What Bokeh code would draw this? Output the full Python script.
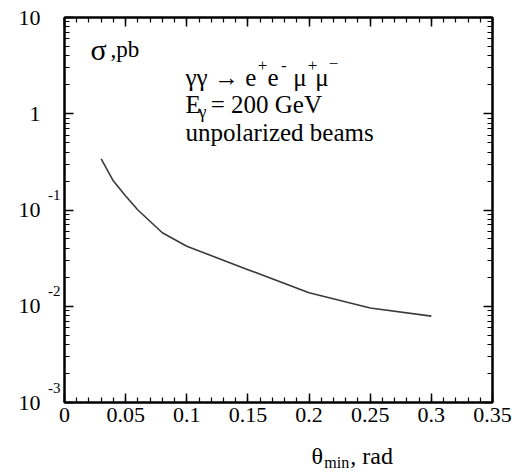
import numpy as np
from bokeh.plotting import figure
from bokeh.models import (Range1d, FixedTicker, LinearAxis, LogAxis, ColumnDataSource,
                          CustomJSTickFormatter, LogScale)
from bokeh.core.properties import value
from bokeh.embed import file_html
from bokeh.resources import INLINE

# ---- data ----
theta = [0.03, 0.04, 0.05, 0.06, 0.08, 0.10, 0.15, 0.20, 0.25, 0.30]
sigma = [0.34, 0.20, 0.14, 0.10, 0.058, 0.042, 0.024, 0.0138, 0.0096, 0.0079]

xtick_values = [0.0, 0.05, 0.10, 0.15, 0.20, 0.25, 0.30, 0.35]
xtick_labels = ["0", "0.05", "0.1", "0.15", "0.2", "0.25", "0.3", "0.35"]
ytick_values = [1e-3, 1e-2, 1e-1, 1.0, 10.0]
ytick_base = ["10", "10", "10", "1", "10"]
ytick_exp = ["-3", "-2", "-1", "", ""]

# x-axis title pieces (text, centre position on the theta axis)
xtitle_main = ["θ", ", rad"]
xtitle_main_pos = [0.2066, 0.2512]
xtitle_sub = ["min"]
xtitle_sub_pos = [0.2226]

# annotation texts inside the frame
ann_text = ["σ", ",pb",
            "γγ → e", "+", "e", "-", "μ", "+", "μ", "−",
            "E", "γ", "= 200 GeV",
            "unpolarized beams"]
ann_x = [0.0213, 0.0376,
         0.0990, 0.158, 0.166, 0.177, 0.187, 0.199, 0.205, 0.216,
         0.0990, 0.1095, 0.1195,
         0.0990]
ann_y = [4.7, 4.7,
         2.37, 2.37, 2.37, 2.37, 2.37, 2.37, 2.37, 2.37,
         1.25, 1.25, 1.25,
         0.645]
ann_size = ["30px", "23px",
            "25px", "17px", "25px", "17px", "25px", "17px", "25px", "17px",
            "25px", "18px", "25px",
            "25px"]
ann_dy = [0, 0,
          0, -12, 0, -12, 0, -12, 0, -14,
          0, 8, 0,
          0]

FONT = "'Liberation Serif'"

EXP_SHIFT = 15 / 97.5  # superscript raise, in decades

p = figure(width=512, height=473, x_range=Range1d(0, 0.35), y_range=Range1d(1e-3, 10),
           y_axis_type="log", output_backend="svg", toolbar_location=None,
           min_border_left=64, min_border_right=20, min_border_top=17, min_border_bottom=66)
p.extra_y_ranges = {"exp": Range1d(1e-3 * 10 ** -EXP_SHIFT, 10 * 10 ** -EXP_SHIFT)}
p.extra_y_scales = {"exp": LogScale()}
p.grid.visible = False
p.outline_line_color = "black"
p.outline_line_width = 2
p.background_fill_color = "white"
p.border_fill_color = "white"

x_minor = [round(v, 3) for v in np.arange(0, 0.3501, 0.01)]
y_minor = [m * 10.0 ** e for e in range(-3, 1) for m in range(1, 10)] + [10.0]

xticker = FixedTicker(ticks=xtick_values, minor_ticks=x_minor)
yticker = FixedTicker(ticks=ytick_values, minor_ticks=y_minor)
blank = CustomJSTickFormatter(code="return ''")

def style(ax):
    ax.axis_line_width = 2
    ax.axis_line_color = "black"
    ax.major_tick_in = 9
    ax.major_tick_out = 0
    ax.minor_tick_in = 5
    ax.minor_tick_out = 0
    ax.major_tick_line_width = 1.5
    ax.minor_tick_line_width = 1.2
    ax.major_tick_line_color = "black"
    ax.minor_tick_line_color = "black"
    ax.major_label_standoff = 0

def bare(ax):
    ax.axis_line_color = None
    ax.major_tick_line_color = None
    ax.minor_tick_line_color = None
    ax.major_tick_in = 0
    ax.major_tick_out = 0
    ax.minor_tick_in = 0
    ax.minor_tick_out = 0
    ax.major_label_text_font = FONT
    ax.major_label_text_color = "black"

# bottom axis with tick labels
xa = p.xaxis[0]
xa.ticker = xticker
style(xa)
xa.major_label_overrides = {v: s for v, s in zip(xtick_values, xtick_labels)}
xa.major_label_text_font = FONT
xa.major_label_text_font_size = "22px"
xa.major_label_text_color = "black"
xa.major_label_standoff = 5

# x title: theta and ", rad"
xt = LinearAxis(ticker=FixedTicker(ticks=xtitle_main_pos, minor_ticks=[]))
bare(xt)
xt.major_label_overrides = {v: s for v, s in zip(xtitle_main_pos, xtitle_main)}
xt.major_label_text_font_size = "24px"
xt.major_label_standoff = 18
p.add_layout(xt, "below")
# subscript "min"
xs = LinearAxis(ticker=FixedTicker(ticks=xtitle_sub_pos, minor_ticks=[]))
bare(xs)
xs.major_label_overrides = {v: s for v, s in zip(xtitle_sub_pos, xtitle_sub)}
xs.major_label_text_font_size = "16px"
xs.major_label_standoff = -18
p.add_layout(xs, "below")

# left axis: ticks only
ya = p.yaxis[0]
ya.ticker = yticker
ya.formatter = blank
style(ya)

# exponents (raised)
ye = LogAxis(ticker=FixedTicker(ticks=ytick_values, minor_ticks=[]), y_range_name="exp")
bare(ye)
ye.major_label_overrides = {v: s for v, s in zip(ytick_values, ytick_exp)}
ye.major_label_text_font_size = "15px"
ye.major_label_standoff = 4
p.add_layout(ye, "left")

# bases
yb = LogAxis(ticker=FixedTicker(ticks=ytick_values, minor_ticks=[]))
bare(yb)
yb.major_label_overrides = {v: s for v, s in zip(ytick_values, ytick_base)}
yb.major_label_text_font_size = "22px"
yb.major_label_standoff = 5
p.add_layout(yb, "left")

top = LinearAxis(ticker=xticker, formatter=blank)
style(top)
p.add_layout(top, "above")
right = LogAxis(ticker=yticker, formatter=blank)
style(right)
p.add_layout(right, "right")

p.line(theta, sigma, line_color="#3a3a3a", line_width=1.6)

src = ColumnDataSource(dict(x=ann_x, y=ann_y, text=ann_text, size=ann_size, dy=ann_dy))
p.text(x="x", y="y", text="text", source=src, text_font=value(FONT),
       text_font_size="size", y_offset="dy", text_align="left",
       text_baseline="alphabetic", text_color="black")

open("out.html", "w").write(file_html(p, INLINE))
